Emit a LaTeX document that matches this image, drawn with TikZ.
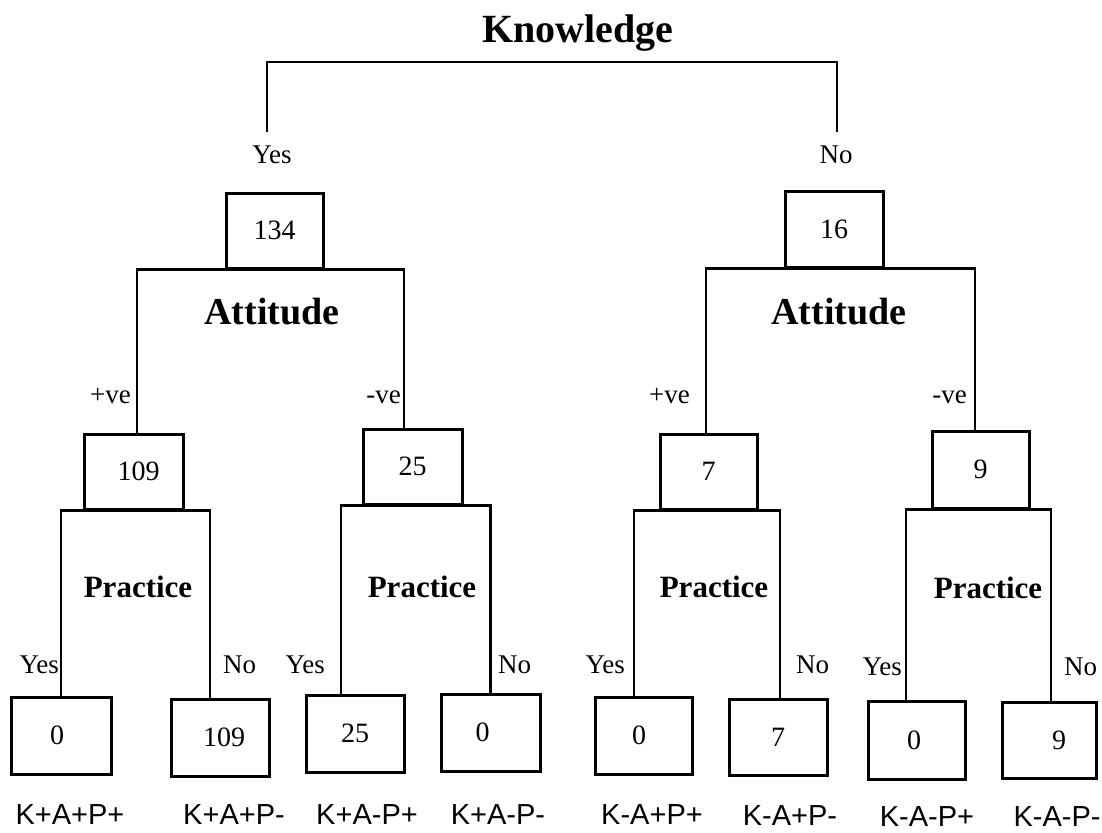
\documentclass[tikz,border=0pt]{standalone}
\usepackage{fontspec}
\setmainfont{Liberation Serif}
\newfontfamily\lsans{Liberation Sans}
\begin{document}
\begin{tikzpicture}[x=1pt,y=-1pt,
  numbox/.style={draw, line width=3pt, inner sep=0pt, font=\fontsize{28}{30}\selectfont},
  conn/.style={line width=2.4pt},
  headtxt/.style={inner sep=0pt, anchor=base, font=\bfseries\fontsize{40}{44}\selectfont},
  atttxt/.style={inner sep=0pt, anchor=base, font=\bfseries\fontsize{38}{42}\selectfont},
  practxt/.style={inner sep=0pt, anchor=base, font=\bfseries\fontsize{31}{34}\selectfont},
  brtxt/.style={inner sep=0pt, font=\fontsize{27}{30}\selectfont},
  combtxt/.style={inner sep=0pt, anchor=base, font=\lsans\fontsize{29}{32}\selectfont}
]
\useasboundingbox (0,0) rectangle (1102,832);

% title
\node[headtxt] (know) at (578,43) {Knowledge};
\coordinate (kL) at (267,132);
\coordinate (kR) at (837,132);
\draw[conn] (kL) -- (267,62) -- (837,62) -- (kR);
\node[brtxt, anchor=base] (kyes) at (272,163) {Yes};
\node[brtxt, anchor=base] (kno) at (836,163) {No};

% level 1 boxes
\node[numbox, minimum width=97pt, minimum height=75pt] (b134) at (274.5,230.5) {134};
\node[numbox, minimum width=98pt, minimum height=76pt] (b16) at (834,229) {16};

% level 2 boxes
\node[numbox, minimum width=99pt, minimum height=75pt] (b109) at (133.5,471.5) {\hspace*{10pt}109};
\node[numbox, minimum width=99pt, minimum height=75pt] (b25) at (412.5,466.5) {25};
\node[numbox, minimum width=97pt, minimum height=75pt] (b7) at (708.5,471.5) {7};
\node[numbox, minimum width=97pt, minimum height=77pt] (b9) at (980.5,469.5) {9};

% attitude brackets
\draw[conn] ([xshift=3.5pt]b109.north) |- (b134.south) -| ([xshift=-8.5pt]b25.north);
\draw[conn] ([xshift=-2.5pt]b7.north) |- (b16.south) -| ([xshift=-5.5pt]b9.north);
\node[atttxt] (att1) at (272,324) {Attitude};
\node[atttxt] (att2) at (839,324) {Attitude};
\node[brtxt, anchor=base east] (pv1) at (131,403) {+ve};
\node[brtxt, anchor=base east] (nv1) at (401,403) {-ve};
\node[brtxt, anchor=base east] (pv2) at (690,403) {+ve};
\node[brtxt, anchor=base east] (nv2) at (967,403) {-ve};

% leaves
\node[numbox, minimum width=100pt, minimum height=77pt] (l1) at (61,735.5) {\hspace*{-8pt}0};
\node[numbox, minimum width=98pt, minimum height=77pt] (l2) at (220,737.5) {\hspace*{8pt}109};
\node[numbox, minimum width=98pt, minimum height=77pt] (l3) at (355,733.5) {25};
\node[numbox, minimum width=99pt, minimum height=77pt] (l4) at (490.5,732.5) {\hspace*{-16pt}0};
\node[numbox, minimum width=97pt, minimum height=77pt] (l5) at (643.5,735.5) {\hspace*{-9pt}0};
\node[numbox, minimum width=98pt, minimum height=76pt] (l6) at (778,737) {7};
\node[numbox, minimum width=97pt, minimum height=78pt] (l7) at (916.5,740) {\hspace*{-5pt}0};
\node[numbox, minimum width=94pt, minimum height=76pt] (l8) at (1049,740) {\hspace*{20pt}9};

% practice brackets
\draw[conn] (l1.north) |- (b109.south) -| ([xshift=-10pt]l2.north);
\draw[conn] ([xshift=-14pt]l3.north) |- (b25.south) -| (l4.north);
\draw[conn] ([xshift=-9.5pt]l5.north) |- (b7.south) -| ([xshift=2pt]l6.north);
\draw[conn] ([xshift=-10.5pt]l7.north) |- (b9.south) -| ([xshift=2pt]l8.north);
\node[practxt] (pr1) at (138,597) {Practice};
\node[practxt] (pr2) at (422,597) {Practice};
\node[practxt] (pr3) at (714,597) {Practice};
\node[practxt] (pr4) at (988,598) {Practice};

\node[brtxt, anchor=base east] (y1) at (59,673) {Yes};
\node[brtxt, anchor=base west] (n1) at (223,673) {No};
\node[brtxt, anchor=base east] (y2) at (325,673) {Yes};
\node[brtxt, anchor=base west] (n2) at (498,673) {No};
\node[brtxt, anchor=base east] (y3) at (625,673) {Yes};
\node[brtxt, anchor=base west] (n3) at (796,673) {No};
\node[brtxt, anchor=base east] (y4) at (902,675) {Yes};
\node[brtxt, anchor=base west] (n4) at (1064,675) {No};

% combinations
\node[combtxt] (c1) at (70,824) {K+A+P+};
\node[combtxt] (c2) at (234,824) {K+A+P-};
\node[combtxt] (c3) at (367,824) {K+A-P+};
\node[combtxt] (c4) at (498,824) {K+A-P-};
\node[combtxt] (c5) at (652,824) {K-A+P+};
\node[combtxt] (c6) at (790,825) {K-A+P-};
\node[combtxt] (c7) at (927,826) {K-A-P+};
\node[combtxt] (c8) at (1057,826) {K-A-P-};
\end{tikzpicture}
\end{document}
